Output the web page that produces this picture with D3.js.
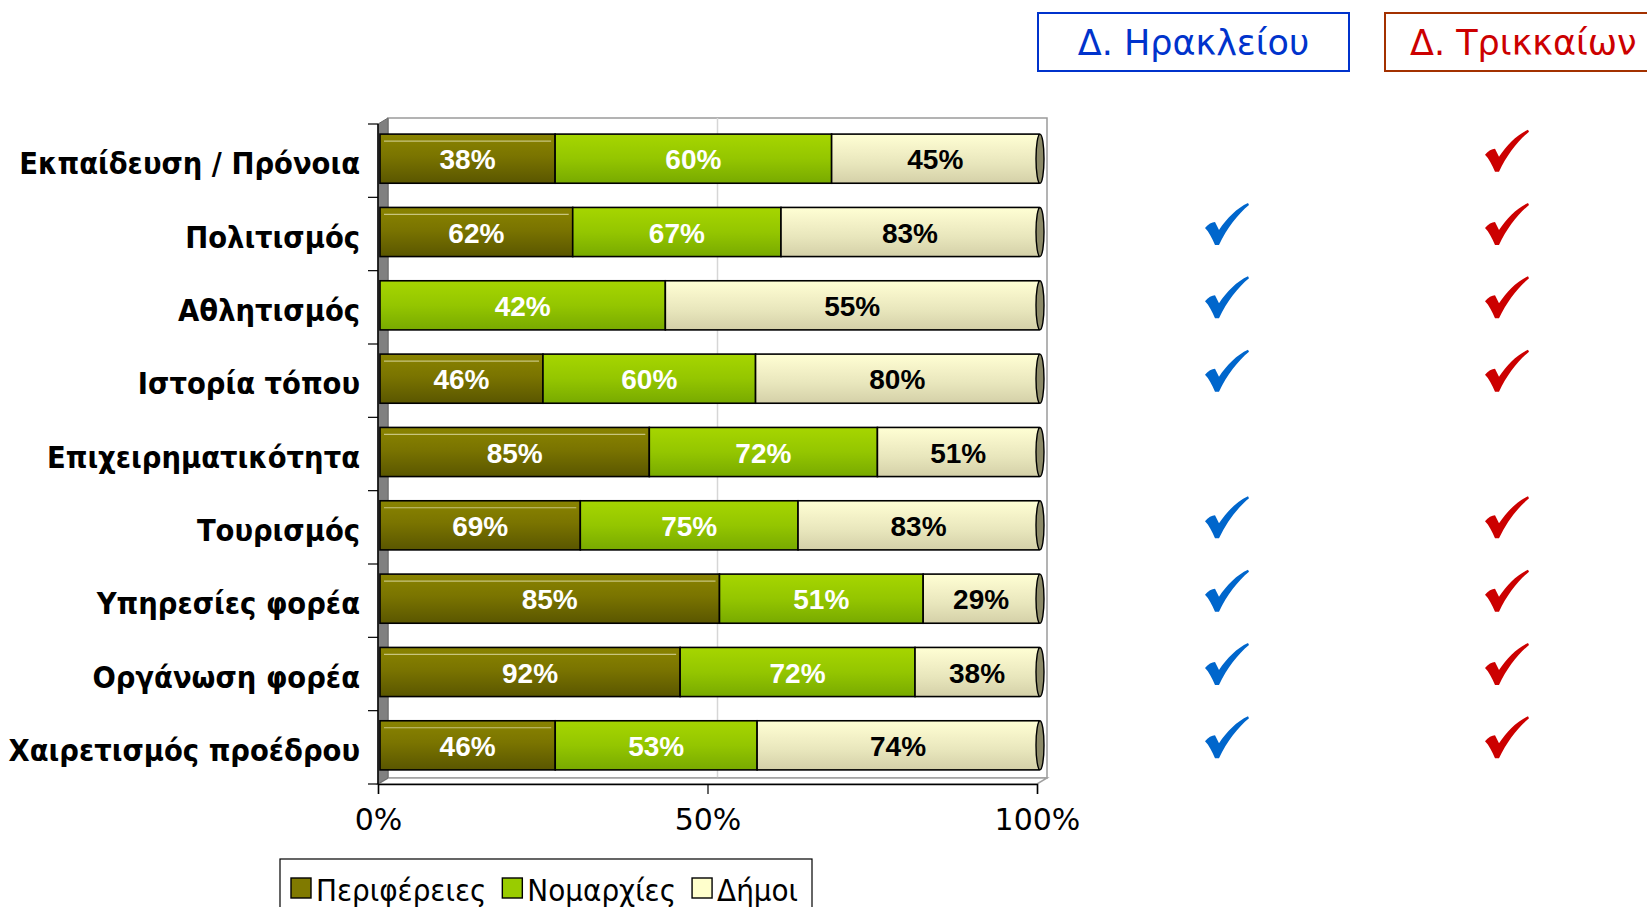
<!DOCTYPE html>
<html>
<head>
<meta charset="UTF-8">
<title>Stacked bars</title>
<script src="https://cdn.jsdelivr.net/npm/d3@7"></script>
<style>
  body { margin: 0; background: #fff; }
  svg { display: block; }
</style>
</head>
<body>
<div id="chart"></div>
<script>
    /// data
    var categories = ["Εκπαίδευση / Πρόνοια", "Πολιτισμός", "Αθλητισμός", "Ιστορία τόπου",
                      "Επιχειρηματικότητα", "Τουρισμός", "Υπηρεσίες φορέα", "Οργάνωση φορέα",
                      "Χαιρετισμός προέδρου"];
    var perifereies = [38, 62, 0, 46, 85, 69, 85, 92, 46];
    var nomarchies  = [60, 67, 42, 60, 72, 75, 51, 72, 53];
    var dimoi       = [45, 83, 55, 80, 51, 83, 29, 38, 74];
    var seriesNames = ["Περιφέρειες", "Νομαρχίες", "Δήμοι"];
    var checkHeraklion = [0, 1, 1, 1, 0, 1, 1, 1, 1];
    var checkTrikala   = [1, 1, 1, 1, 0, 1, 1, 1, 1];
    var xTicks = [0, 0.5, 1];
    var headers = ["Δ. Ηρακλείου", "Δ. Τρικκαίων"];

    /// params
    var width = 1647, height = 907;
    var dx = 10, dy = -6;          // 3d depth of the plot area
    var keys = ["p", "n", "d"];

    var rows = categories.map(function(c, i) {
        return { cat: c, p: perifereies[i], n: nomarchies[i], d: dimoi[i] };
    });
    var stacked = d3.stack().keys(keys).offset(d3.stackOffsetExpand)(rows);

    var svg = d3.select("#chart").append("svg")
        .attr("width", width)
        .attr("height", height);

    var x = d3.scaleLinear().domain([0, 1]).range([378, 1037]);
    var y = d3.scaleBand().domain(categories).range([124, 784]).paddingInner(0.33).paddingOuter(0.165);
    var yBand = d3.scaleBand().domain(categories).range([124, 784]);

    // gradients
    var defs = svg.append("defs");
    var grads = {
        p: [["0%", "#8a8400"], ["45%", "#7a7400"], ["100%", "#5a5600"]],
        n: [["0%", "#a6d600"], ["50%", "#94c600"], ["100%", "#78aa00"]],
        d: [["0%", "#ffffd4"], ["30%", "#f4f2c8"], ["60%", "#e8e6bc"], ["100%", "#d4d0a8"]]
    };
    keys.forEach(function(k) {
        var g = defs.append("linearGradient").attr("id", "g_" + k)
            .attr("x1", 0).attr("y1", 0).attr("x2", 0).attr("y2", 1);
        grads[k].forEach(function(s) {
            g.append("stop").attr("offset", s[0]).attr("stop-color", s[1]);
        });
    });
    var colors = { p: "#807a00", n: "#99cc00", d: "#ffffcc" };

    // walls
    var yTop = y.range()[0], yBottom = y.range()[1];
    svg.append("rect")
        .attr("x", x(0) + dx).attr("y", yTop + dy)
        .attr("width", x(1) - x(0)).attr("height", yBottom - yTop)
        .attr("fill", "#fff").attr("stroke", "#9a9a9a").attr("stroke-width", 1.5);
    svg.append("line")
        .attr("x1", x(0.5) + dx).attr("x2", x(0.5) + dx)
        .attr("y1", yTop + dy).attr("y2", yBottom + dy)
        .attr("stroke", "#d6d6d6").attr("stroke-width", 1.5);
    svg.append("polygon")
        .attr("points", [[x(0), yBottom], [x(0) + dx, yBottom + dy], [x(1) + dx, yBottom + dy], [x(1), yBottom]].join(" "))
        .attr("fill", "#fff").attr("stroke", "#a0a0a0").attr("stroke-width", 1.5);
    svg.append("polygon")
        .attr("points", [[x(0), yBottom], [x(0), yTop], [x(0) + dx, yTop + dy], [x(0) + dx, yBottom + dy]].join(" "))
        .attr("fill", "#808080").attr("stroke", "#6a6a6a");

    // category axis
    svg.append("line")
        .attr("x1", x(0)).attr("x2", x(0)).attr("y1", yTop).attr("y2", yBottom)
        .attr("stroke", "#000").attr("stroke-width", 1.5);
    svg.append("g").selectAll("line")
        .data(categories.concat(["end"]))
        .enter().append("line")
        .attr("x1", x(0) - 10).attr("x2", x(0))
        .attr("y1", function(d, i) { return yTop + i * yBand.step(); })
        .attr("y2", function(d, i) { return yTop + i * yBand.step(); })
        .attr("stroke", "#000").attr("stroke-width", 1.2);

    svg.append("g").selectAll("text")
        .data(categories)
        .enter().append("text")
        .attr("x", 360)
        .attr("y", function(d) { return yBand(d) + yBand.bandwidth() / 2 + 3; })
        .attr("text-anchor", "end")
        .attr("dominant-baseline", "central")
        .style("font-family", "'DejaVu Sans Condensed', 'DejaVu Sans', sans-serif")
        .style("font-weight", "bold")
        .style("font-size", "30.5px")
        .text(function(d) { return d; });

    // x axis
    var xAxis = d3.axisBottom(x).tickValues(xTicks).tickSize(10).tickPadding(15)
        .tickFormat(d3.format(".0%"));
    var gx = svg.append("g")
        .attr("transform", "translate(0," + yBottom + ")")
        .call(xAxis);
    gx.select(".domain").attr("stroke", "#000").attr("stroke-width", 1.5);
    gx.selectAll(".tick line").attr("stroke", "#000").attr("stroke-width", 1.2);
    gx.selectAll(".tick text")
        .style("font-family", "'DejaVu Sans', sans-serif")
        .style("font-size", "30px")
        .attr("fill", "#000");

    // bars
    var barShift = [2, -2];
    var gBars = svg.append("g").attr("transform", "translate(" + barShift[0] + "," + barShift[1] + ")");
    var layers = gBars.selectAll("g.layer")
        .data(stacked)
        .enter().append("g")
        .attr("class", "layer");
    layers.selectAll("rect")
        .data(function(s) { return s.map(function(v) { v.key = s.key; return v; }); })
        .enter().filter(function(v) { return v[1] - v[0] > 0; })
        .append("rect")
        .attr("x", function(v) { return x(v[0]); })
        .attr("y", function(v) { return y(v.data.cat); })
        .attr("width", function(v) { return x(v[1]) - x(v[0]); })
        .attr("height", y.bandwidth())
        .attr("fill", function(v) { return "url(#g_" + v.key + ")"; })
        .attr("stroke", "#000")
        .attr("stroke-width", 1.6);

    // light sheen lines on the olive segments
    layers.filter(function(s) { return s.key === "p"; }).selectAll("line.sheen")
        .data(function(s) { return s.filter(function(v) { return v[1] - v[0] > 0; }); })
        .enter().append("line")
        .attr("x1", function(v) { return x(v[0]) + 4; })
        .attr("x2", function(v) { return x(v[1]) - 4; })
        .attr("y1", function(v) { return y(v.data.cat) + 7; })
        .attr("y2", function(v) { return y(v.data.cat) + 7; })
        .attr("stroke", "rgba(255,255,230,0.55)").attr("stroke-width", 1.2);

    // bar end caps
    gBars.append("g").selectAll("ellipse")
        .data(rows)
        .enter().append("ellipse")
        .attr("cx", x(1) + 1)
        .attr("cy", function(r) { return y(r.cat) + y.bandwidth() / 2; })
        .attr("rx", 4)
        .attr("ry", y.bandwidth() / 2)
        .attr("fill", "#8c8a68")
        .attr("stroke", "#000")
        .attr("stroke-width", 1.4);

    // value labels
    layers.selectAll("text")
        .data(function(s) { return s.filter(function(v) { return v[1] - v[0] > 0; }); })
        .enter().append("text")
        .attr("x", function(v) { return (x(v[0]) + x(v[1])) / 2; })
        .attr("y", function(v) { return y(v.data.cat) + y.bandwidth() / 2 + 1; })
        .attr("text-anchor", "middle")
        .attr("dominant-baseline", "central")
        .attr("fill", function(v) { return v.key === "d" ? "#000" : "#fff"; })
        .style("font-family", "'Liberation Sans', Arial, sans-serif")
        .style("font-weight", "bold")
        .style("font-size", "28px")
        .text(function(v) { return v.data[v.key] + "%"; });

    // legend
    var legend = svg.append("g");
    legend.append("rect")
        .attr("x", 280).attr("y", 859).attr("width", 532).attr("height", 80)
        .attr("fill", "#fff").attr("stroke", "#000").attr("stroke-width", 1.2);
    var lx = 291;
    seriesNames.forEach(function(name, i) {
        legend.append("rect")
            .attr("x", lx).attr("y", 878).attr("width", 20).attr("height", 20)
            .attr("fill", colors[keys[i]]).attr("stroke", "#000").attr("stroke-width", 1.4);
        var t = legend.append("text")
            .attr("x", lx + 25).attr("y", 890)
            .attr("dominant-baseline", "central")
            .style("font-family", "'DejaVu Sans Condensed', 'DejaVu Sans', sans-serif")
            .style("font-size", "31px")
            .text(name);
        lx += 25 + t.node().getComputedTextLength() + 16;
    });

    // header boxes
    var headerX = [1038, 1385], headerW = [311, 300];
    var headerStroke = ["#0033cc", "#a33100"], headerFill = ["#0033cc", "#cc0000"];
    headers.forEach(function(h, i) {
        svg.append("rect")
            .attr("x", headerX[i]).attr("y", 13).attr("width", headerW[i]).attr("height", 58)
            .attr("fill", "#fff").attr("stroke", headerStroke[i]).attr("stroke-width", 2);
        svg.append("text")
            .attr("x", i === 0 ? headerX[i] + headerW[i] / 2 : 1410)
            .attr("y", 43)
            .attr("text-anchor", i === 0 ? "middle" : "start")
            .attr("dominant-baseline", "central")
            .attr("fill", headerFill[i])
            .style("font-family", "'DejaVu Sans', sans-serif")
            .style("font-size", "35px")
            .text(h);
    });

    // check marks
    var checkPath = "M0,25 C3,21 7,19 10,19 L14,27 C22,15 32,5 43,0 L44,2 C33,11 22,25 14,42 L10,42 C7,35 4,29 0,25 Z";
    function drawChecks(flags, cx, color) {
        svg.append("g").selectAll("path")
            .data(categories.filter(function(c, i) { return flags[i]; }))
            .enter().append("path")
            .attr("d", checkPath)
            .attr("fill", color)
            .attr("transform", function(c) {
                return "translate(" + (cx - 22) + "," + (yBand(c) + yBand.bandwidth() / 2 - 10 - 21) + ")";
            });
    }
    drawChecks(checkHeraklion, 1227, "#0066cc");
    drawChecks(checkTrikala, 1507, "#cc0000");
</script>
</body>
</html>
